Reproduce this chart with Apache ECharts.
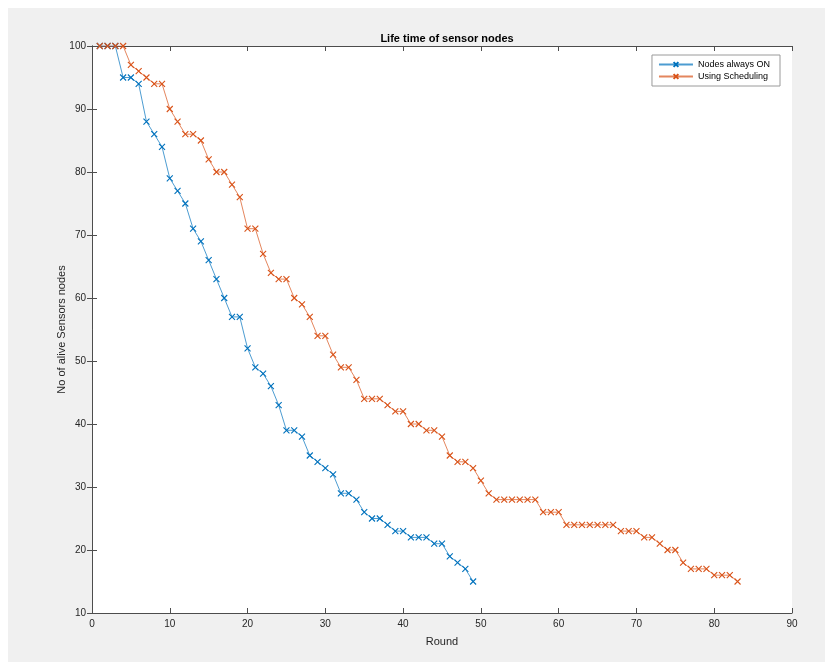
<!DOCTYPE html>
<html>
<head>
<meta charset="utf-8">
<script src="https://cdn.jsdelivr.net/npm/echarts@6/dist/echarts.min.js"></script>
<style>
html,body{margin:0;padding:0;background:#ffffff;}
#chart{position:absolute;left:8px;top:8px;width:817px;height:654px;background:#f0f0f0;}
</style>
</head>
<body>
<div id="chart"></div>
<script>
// Data
const roundsOn = [1,2,3,4,5,6,7,8,9,10,11,12,13,14,15,16,17,18,19,20,21,22,23,24,25,26,27,28,29,30,31,32,33,34,35,36,37,38,39,40,41,42,43,44,45,46,47,48,49];
const nodesAlwaysOn = [100,100,100,95,95,94,88,86,84,79,77,75,71,69,66,63,60,57,57,52,49,48,46,43,39,39,38,35,34,33,32,29,29,28,26,25,25,24,23,23,22,22,22,21,21,19,18,17,15];
const roundsSched = [1,2,3,4,5,6,7,8,9,10,11,12,13,14,15,16,17,18,19,20,21,22,23,24,25,26,27,28,29,30,31,32,33,34,35,36,37,38,39,40,41,42,43,44,45,46,47,48,49,50,51,52,53,54,55,56,57,58,59,60,61,62,63,64,65,66,67,68,69,70,71,72,73,74,75,76,77,78,79,80,81,82,83];
const usingScheduling = [100,100,100,100,97,96,95,94,94,90,88,86,86,85,82,80,80,78,76,71,71,67,64,63,63,60,59,57,54,54,51,49,49,47,44,44,44,43,42,42,40,40,39,39,38,35,34,34,33,31,29,28,28,28,28,28,28,26,26,26,24,24,24,24,24,24,24,23,23,23,22,22,21,20,20,18,17,17,17,16,16,16,15];
const seriesNames = ['Nodes always ON','Using Scheduling'];
const xTicks = [0,90,10];
const yTicks = [10,100,10];

const blue = '#0072BD';
const orange = '#D95319';
const xMark = 'path://M0,0L10,10M10,0L0,10';
const axisCol = '#4d4d4d';
const font = 'Liberation Sans, Arial, Helvetica, sans-serif';

function pairs(xs, ys){ return xs.map((x,i)=>[x, ys[i]]); }

const chart = echarts.init(document.getElementById('chart'), null, {renderer:'canvas'});
const baseAxisLine = {show:true, lineStyle:{color:axisCol, width:1}};
const baseTick = {show:true, inside:true, length:5, lineStyle:{color:axisCol, width:1}};

chart.setOption({
  backgroundColor:'#f0f0f0',
  animation:false,
  title:{
    text:'Life time of sensor nodes',
    left:434, textAlign:'center', top:20,
    textStyle:{fontFamily:font, fontSize:11, fontWeight:'bold', color:'#000'}
  },
  legend:{
    data:seriesNames,
    orient:'vertical',
    right:45, top:47,
    backgroundColor:'#ffffff',
    borderColor:'#9a9a9a', borderWidth:1, borderRadius:0,
    padding:[5,10,5,6],
    itemGap:3, itemWidth:34, itemHeight:6,
    textStyle:{fontFamily:font, fontSize:9, color:'#000'}
  },
  grid:{left:84, top:38, width:700, height:567, show:true, backgroundColor:'#ffffff', borderWidth:0},
  xAxis:[{
    type:'value', min:xTicks[0], max:xTicks[1], interval:xTicks[2],
    name:'Round', nameLocation:'middle', nameGap:23, nameMoveOverlap:false,
    nameTextStyle:{fontFamily:font, fontSize:11, color:'#262626'},
    axisLine:baseAxisLine, axisTick:baseTick,
    axisLabel:{fontFamily:font, fontSize:10, color:'#262626', margin:6},
    splitLine:{show:false}
  },{
    type:'value', position:'top', min:xTicks[0], max:xTicks[1], interval:xTicks[2],
    axisLine:baseAxisLine, axisTick:baseTick, axisLabel:{show:false}, splitLine:{show:false}
  }],
  yAxis:[{
    type:'value', min:yTicks[0], max:yTicks[1], interval:yTicks[2],
    name:'No of alive Sensors nodes', nameLocation:'middle', nameGap:25, nameMoveOverlap:false,
    nameTextStyle:{fontFamily:font, fontSize:11, color:'#262626'},
    axisLine:baseAxisLine, axisTick:baseTick,
    axisLabel:{fontFamily:font, fontSize:10, color:'#262626', margin:6},
    splitLine:{show:false}
  },{
    type:'value', position:'right', min:yTicks[0], max:yTicks[1], interval:yTicks[2],
    axisLine:baseAxisLine, axisTick:baseTick, axisLabel:{show:false}, splitLine:{show:false}
  }],
  series:[{
    name:seriesNames[0], type:'line', xAxisIndex:0, yAxisIndex:0,
    data:pairs(roundsOn, nodesAlwaysOn),
    symbol:xMark, symbolSize:6, showAllSymbol:true,
    lineStyle:{color:blue, width:1, opacity:0.7},
    itemStyle:{color:'rgba(0,0,0,0)', borderColor:blue, borderWidth:1.1},
    emphasis:{disabled:true}
  },{
    name:seriesNames[1], type:'line', xAxisIndex:0, yAxisIndex:0,
    data:pairs(roundsSched, usingScheduling),
    symbol:xMark, symbolSize:6, showAllSymbol:true,
    lineStyle:{color:orange, width:1, opacity:0.7},
    itemStyle:{color:'rgba(0,0,0,0)', borderColor:orange, borderWidth:1.1},
    emphasis:{disabled:true}
  }]
});
</script>
</body>
</html>
